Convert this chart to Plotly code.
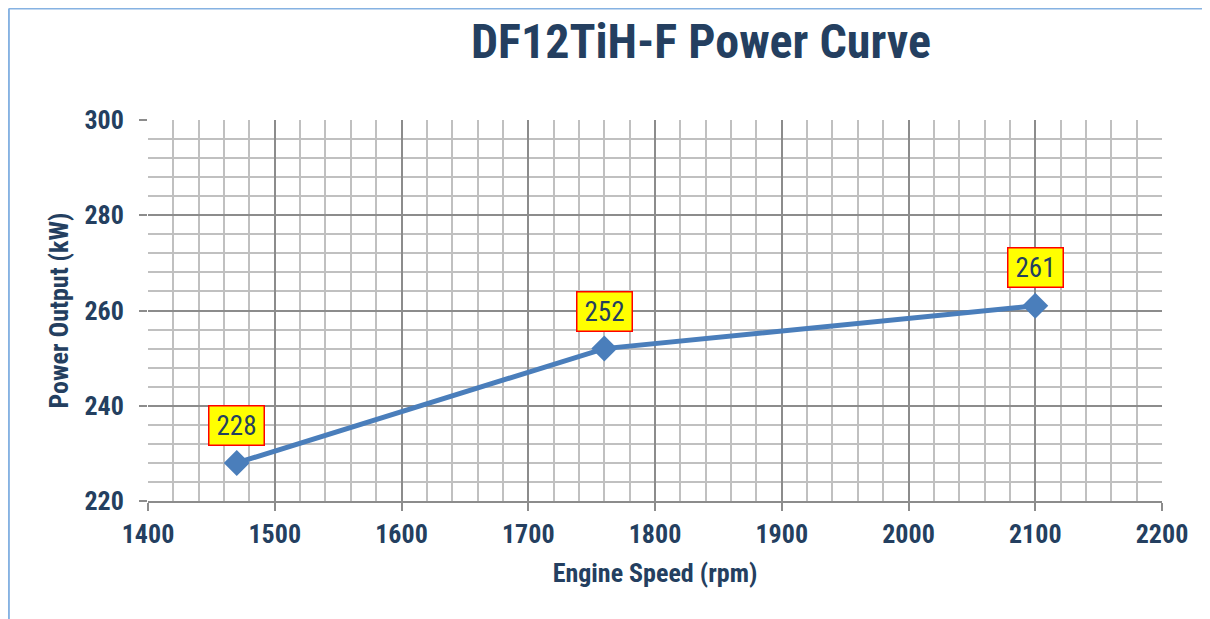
import plotly.graph_objects as go

speed_rpm = [1470, 1760, 2100]
power_kw = [228, 252, 261]
label_text = ["228", "252", "261"]
x_ticks = [1400, 1500, 1600, 1700, 1800, 1900, 2000, 2100, 2200]
y_ticks = [220, 240, 260, 280, 300]

NAVY = "#243F60"
LINE = "#4A7EBB"
FONT = "Liberation Sans Narrow, Arial Narrow, Roboto Condensed, sans-serif"

fig = go.Figure()
fig.add_trace(go.Scatter(
    x=speed_rpm, y=power_kw, mode="lines+markers",
    line=dict(color=LINE, width=5),
    marker=dict(symbol="diamond", size=20, color=LINE),
    showlegend=False,
))

offsets = [-37, -37, -38]
for x, y, t, o in zip(speed_rpm, power_kw, label_text, offsets):
    fig.add_annotation(
        x=x, y=y, text=t, showarrow=True, arrowcolor="rgba(0,0,0,0)",
        ax=0, ay=o, font=dict(family=FONT, size=27, color=NAVY),
        width=52, height=36,
        bgcolor="#FFFF00", bordercolor="#FF0000", borderwidth=1.5, borderpad=1,
    )

# light blue chart border (top + left)
fig.add_shape(type="line", xref="paper", yref="paper",
              x0=-0.1372, x1=1.1, y0=1.2925, y1=1.2925,
              line=dict(color="#86B2E2", width=2))
fig.add_shape(type="line", xref="paper", yref="paper",
              x0=-0.1372, x1=-0.1372, y0=1.2925, y1=-0.35,
              line=dict(color="#86B2E2", width=2))

fig.update_layout(
    width=1202, height=611,
    margin=dict(l=140, r=48, t=112, b=118),
    paper_bgcolor="white", plot_bgcolor="white",
    title=dict(text="<b>DF12TiH-F Power Curve</b>", x=0.5765, xref="container",
               xanchor="center", y=0.946, yref="container", yanchor="middle",
               font=dict(family=FONT, size=48, color=NAVY)),
    xaxis=dict(
        range=[1400, 2200], tickvals=x_ticks, ticks="outside", ticklen=8,
        tickcolor="#8C8C8C", tickwidth=2, ticklabelstandoff=1,
        showgrid=True, gridcolor="#8C8C8C", gridwidth=1.5,
        minor=dict(dtick=20, showgrid=True, gridcolor="#C0C0C0", gridwidth=1.5),
        showline=True, linecolor="#8C8C8C", linewidth=2, zeroline=False,
        tickfont=dict(family=FONT, size=26, color=NAVY, weight="bold"),
        title=dict(text="<b>Engine Speed (rpm)</b>", standoff=16,
                   font=dict(family=FONT, size=26, color=NAVY)),
    ),
    yaxis=dict(
        range=[220, 300], tickvals=y_ticks, ticks="outside", ticklen=8,
        tickcolor="#8C8C8C", tickwidth=2, ticklabelstandoff=10,
        showgrid=True, gridcolor="#8C8C8C", gridwidth=1.5,
        minor=dict(dtick=4, showgrid=True, gridcolor="#C0C0C0", gridwidth=1.5),
        showline=False, zeroline=False,
        tickfont=dict(family=FONT, size=26, color=NAVY, weight="bold"),
        title=dict(text="<b>Power Output (kW)</b>", standoff=8,
                   font=dict(family=FONT, size=26, color=NAVY)),
    ),
)

fig.write_html("out.html")
